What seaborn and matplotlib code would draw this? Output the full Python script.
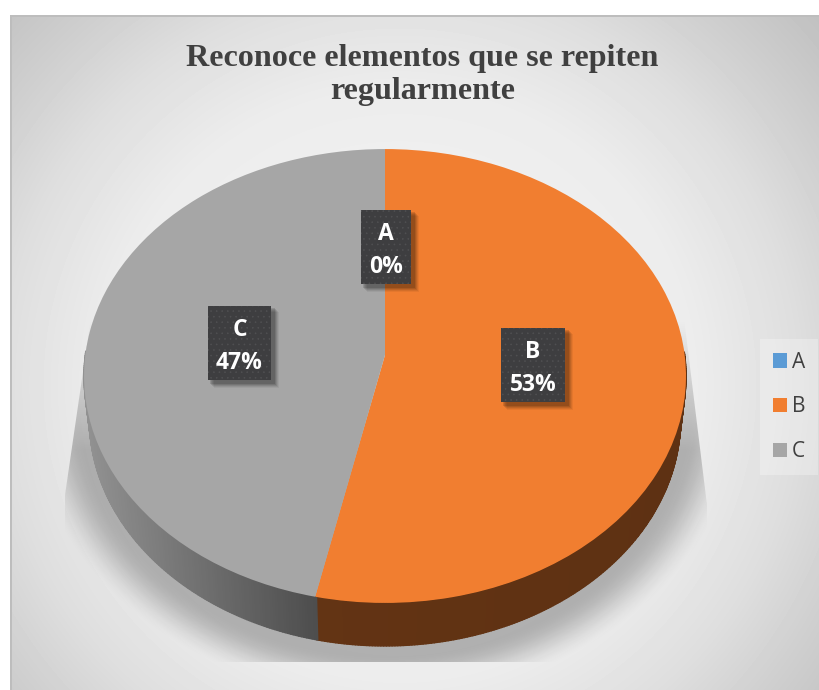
import numpy as np
import matplotlib
matplotlib.use("Agg")
import matplotlib.pyplot as plt
import seaborn as sns
from matplotlib.collections import PolyCollection
from matplotlib.patches import Patch, Polygon, Rectangle
from matplotlib.transforms import Transform

categories = ["A", "B", "C"]
values = [0.0, 53.4, 46.6]
percent_labels = ["0%", "53%", "47%"]
colors = ["#5B9BD5", "#F17E30", "#A6A6A6"]
title_text = "Reconoce elementos que se repiten\nregularmente"

sns.set_theme(style="white")
plt.rcParams["font.family"] = ["Open Sans", "DejaVu Sans"]
plt.rcParams["hatch.linewidth"] = 0.4
palette = sns.color_palette(colors)

W, H = 820, 690
fig = plt.figure(figsize=(W / 100, H / 100), dpi=100, facecolor="white")
ax = fig.add_axes([0, 0, 1, 1])


class Perspective(Transform):
    """Tilts the unit pie into pixel coordinates."""
    input_dims = output_dims = 2
    is_separable = False
    has_inverse = False
    cx, cy, sx, sy, k = 385.0, 355.0, 299.7, 225.0, 0.0925

    def transform_non_affine(self, v):
        v = np.asarray(v, float)
        w = 1 + self.k * v[:, 1]
        return np.column_stack((self.cx + self.sx * v[:, 0] / w,
                                self.cy - self.sy * v[:, 1] / w))


persp = Perspective()
DEPTH = 43
BOTTOM_SCALE = 0.982

# Background gradient
yy, xx = np.mgrid[15:690, 10:820] + 0.5
r = np.hypot(xx - 400, yy - 385)
bg = np.interp(r, [0, 300, 400, 470, 560], [247, 236, 222, 208, 192]) / 255
ax.imshow(bg, extent=(10, 820, 690, 15), cmap="gray", vmin=0, vmax=1,
          aspect="auto", zorder=0, interpolation="bilinear")

# Soft floor shadow
t = np.hypot((xx - 385) / 306, (yy - 400) / 256)
d = np.clip((t - 1) * 260, 0, None)
fade = np.clip(1 - d / 46, 0, 1)
fade = fade * fade * (3 - 2 * fade)
fade *= np.clip((yy - 320) / 130, 0, 1)
rgba = np.zeros(xx.shape + (4,))
rgba[..., 3] = 0.26 * fade
shadow = ax.imshow(rgba, extent=(10, 820, 690, 15), aspect="auto", zorder=1)
clip_poly = Polygon([(92, 310), (65, 495), (65, 662), (707, 662), (707, 505), (683, 310)],
                    closed=True, transform=ax.transData)
shadow.set_clip_path(clip_poly)

# Chart frame edges
ax.add_patch(Rectangle((10, 15), 810, 2, fc="#BDBDBD", ec="none", zorder=2))
ax.add_patch(Rectangle((10, 15), 2, 675, fc="#BDBDBD", ec="none", zorder=2))

# Pie
wedges, _ = ax.pie(values, colors=palette, startangle=90, counterclock=False,
                   wedgeprops={"linewidth": 0})
for wd in wedges:
    wd.set_transform(persp + ax.transData)
    wd.set_zorder(4)

# Extruded wall, built from the wedges' own angles (front half only)
wall_shades = {1: ([85, 320, 686], [0.41, 0.41, 0.39]),
               2: ([85, 320], [0.88, 0.46])}
for i, wd in enumerate(wedges):
    if values[i] <= 0:
        continue
    th = np.radians(np.arange(wd.theta1, wd.theta2 + 0.5, 0.5))
    th = th[np.sin(th) < 0.02]
    pts = persp.transform_non_affine(np.column_stack((np.cos(th), np.sin(th))))
    low = np.column_stack((persp.cx + (pts[:, 0] - persp.cx) * BOTTOM_SCALE, pts[:, 1] + DEPTH))
    quads, fcs = [], []
    for j in range(len(pts) - 1):
        quads.append([pts[j], pts[j + 1], low[j + 1], low[j]])
        f = np.interp((pts[j, 0] + pts[j + 1, 0]) / 2, *wall_shades[i])
        fcs.append(tuple(np.array(palette[i]) * f))
    ax.add_collection(PolyCollection(quads, facecolors=fcs, edgecolors=fcs,
                                     linewidths=1.0, zorder=3))

# Data labels
label_boxes = [(361, 210, 50, 74), (501, 328, 64, 74), (208, 306, 63, 74)]
for cat, pct, (x, y, w, h) in zip(categories, percent_labels, label_boxes):
    for o, a in zip((7, 6, 5, 4, 3), (0.05, 0.07, 0.09, 0.11, 0.13)):
        ax.add_patch(Rectangle((x + o - 1, y + o - 1), w + 2, h + 2, fc="black",
                               ec="none", alpha=a, zorder=5))
    ax.add_patch(Rectangle((x, y), w, h, fc="#3E3E40", ec="none", zorder=6))
    ax.add_patch(Rectangle((x, y), w, h, fc="none", ec="#505052", hatch="...",
                           lw=0, zorder=6.1))
    cx_ = x + w / 2
    ax.text(cx_, y + 24, cat, color="white", fontsize=16.5, fontweight="bold",
            ha="center", va="center", zorder=7)
    ax.text(cx_, y + 57, pct, color="white", fontsize=16.5, fontweight="bold",
            ha="center", va="center", zorder=7)

# Title
ax.text(422.5, 75, title_text, family=["Liberation Serif", "DejaVu Serif"], fontsize=23.1,
        fontweight="bold", color="#404040", ha="center", va="center",
        linespacing=1.2, zorder=7)

ax.set_aspect("auto")
ax.set_xlim(0, W)
ax.set_ylim(H, 0)
ax.axis("off")

# Legend
handles = [Patch(facecolor=c, edgecolor="none", label=l) for c, l in zip(palette, categories)]
leg = ax.legend(handles=handles, loc="center left", bbox_to_anchor=(760, 407),
                bbox_transform=ax.transData, fontsize=15, frameon=True,
                fancybox=False, framealpha=0.28, facecolor="white", edgecolor="none",
                handlelength=0.67, handleheight=0.67, handletextpad=0.24,
                labelspacing=1.14, borderpad=0.62, borderaxespad=0, labelcolor="#404040")
leg.set_zorder(7)

fig.savefig("out.png", dpi=100, facecolor="white")
